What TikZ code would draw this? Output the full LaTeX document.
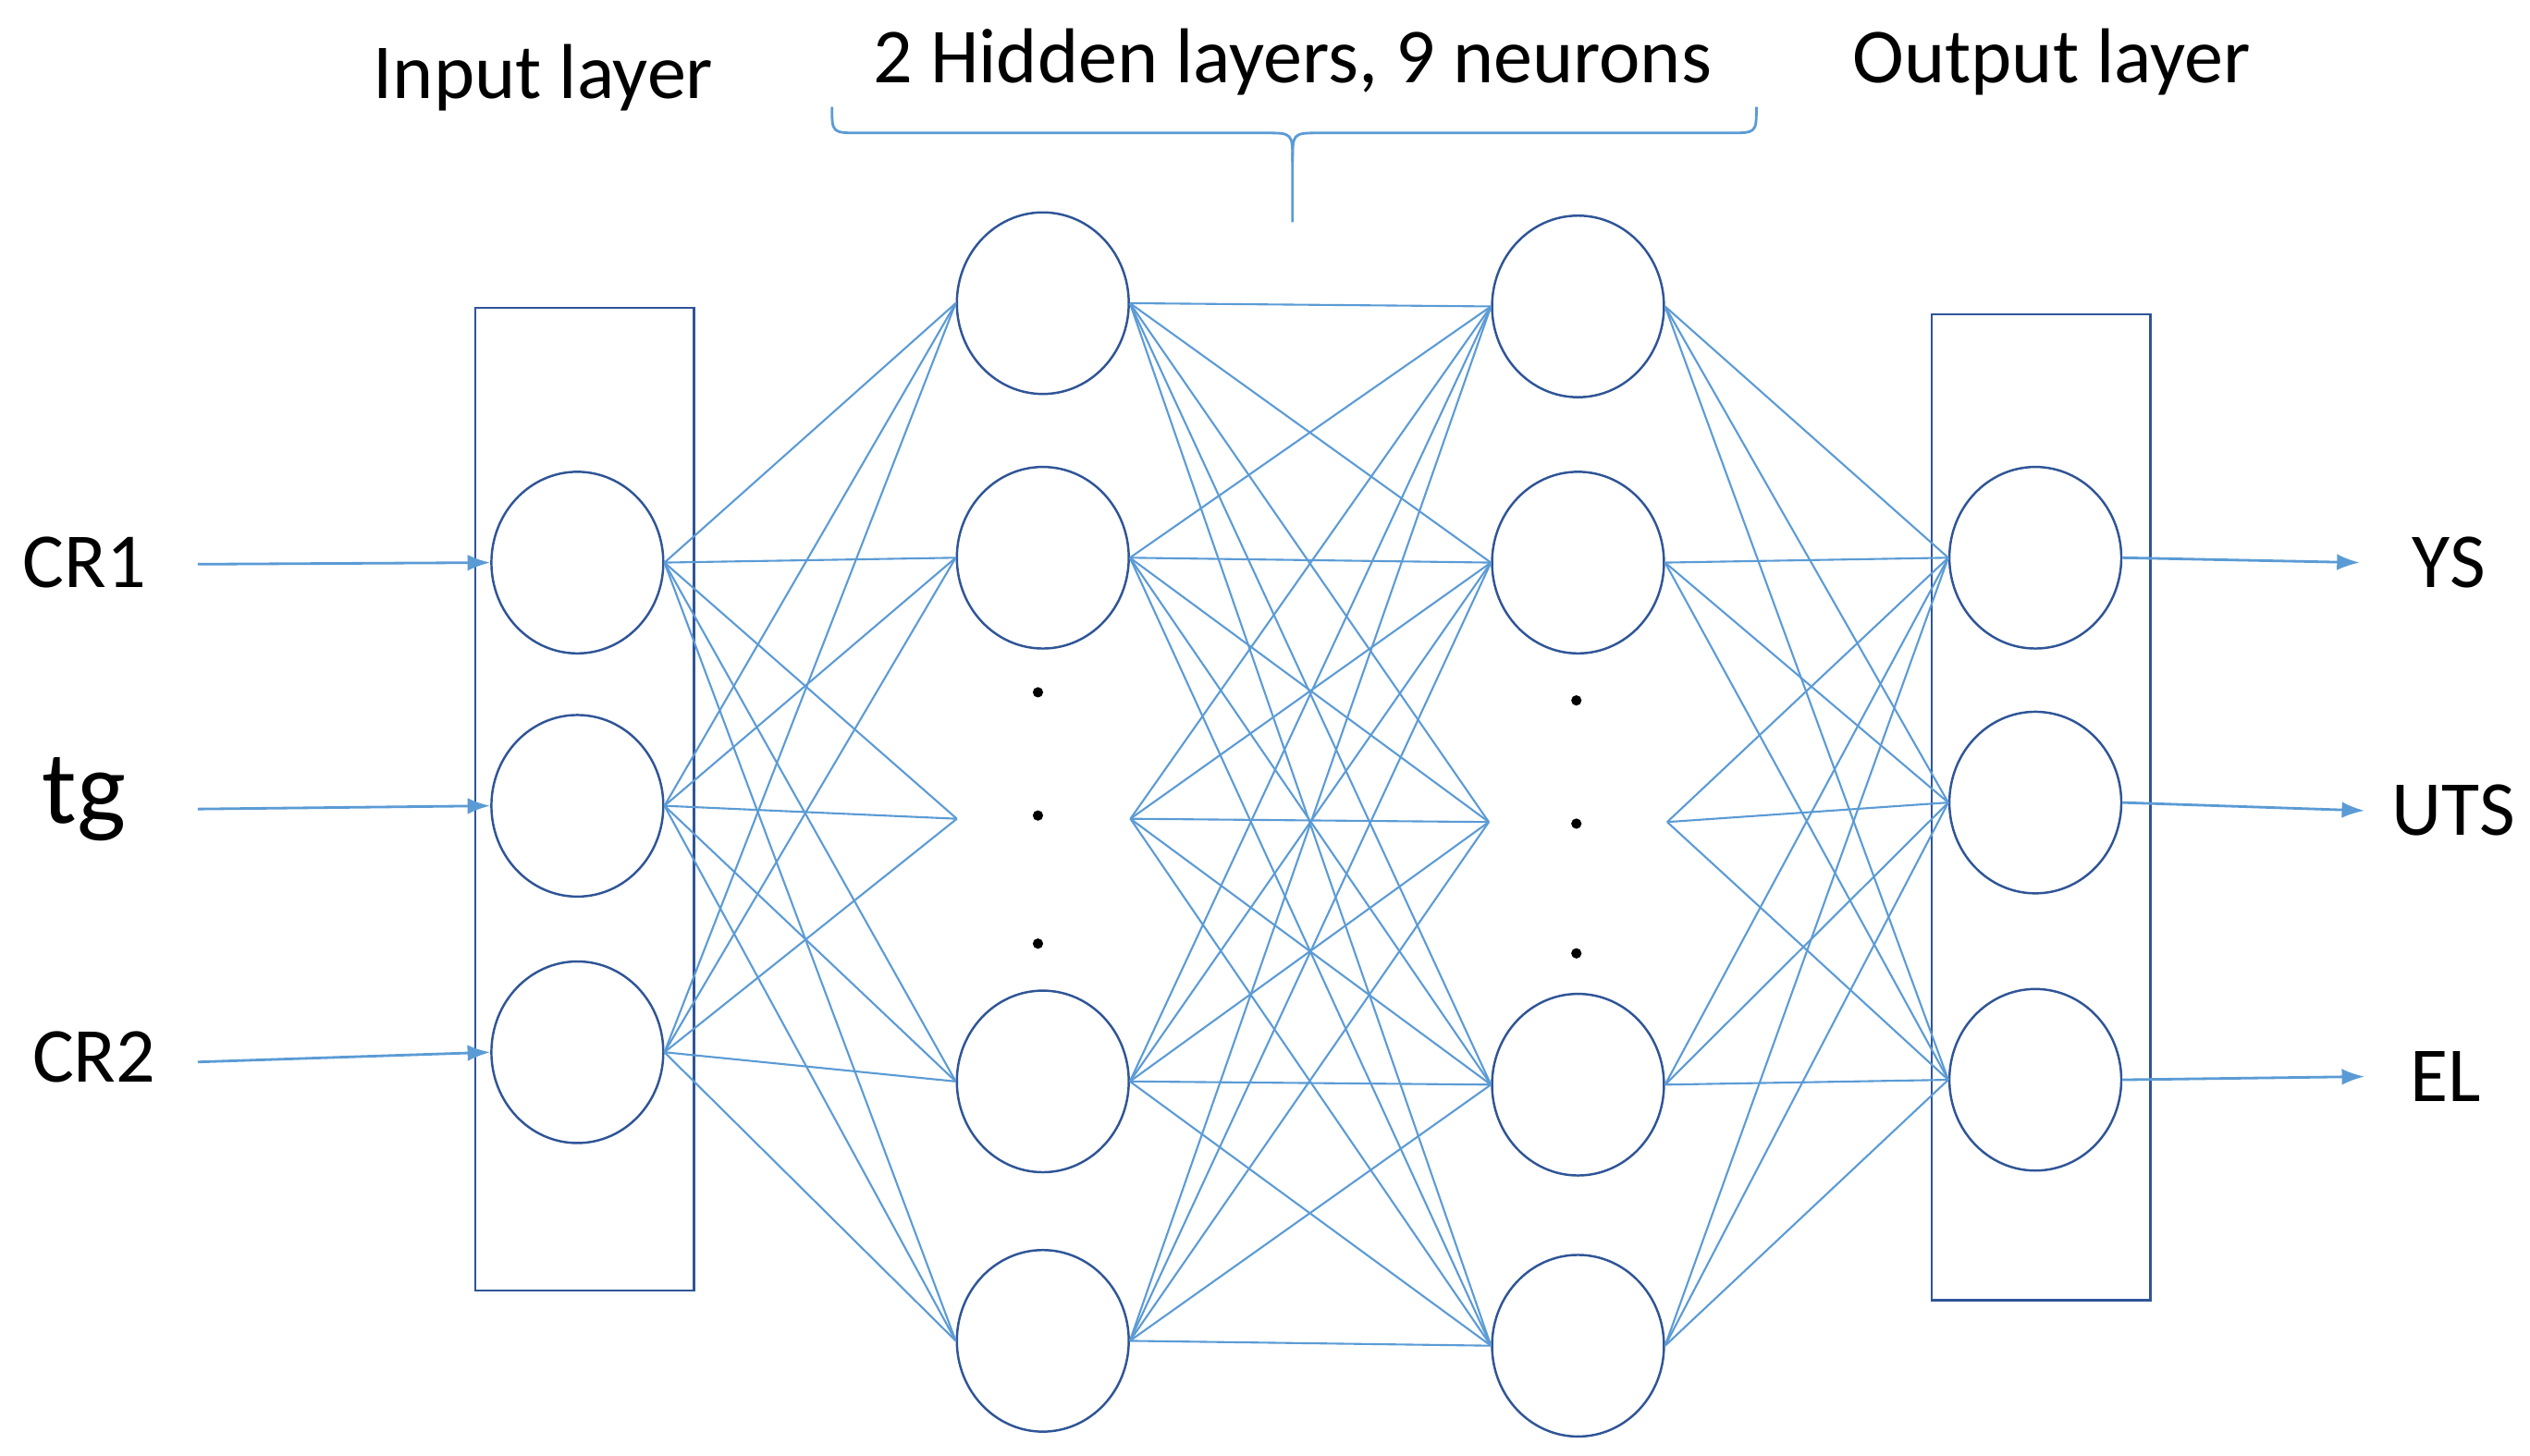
\documentclass[tikz,border=0pt]{standalone}
\usepackage{fontspec}
\setmainfont{Carlito}
\usetikzlibrary{shapes.geometric,decorations.pathreplacing,arrows.meta}
\definecolor{lineb}{RGB}{91,155,213}
\definecolor{darkb}{RGB}{47,85,151}
\begin{document}
\begin{tikzpicture}[x=0.5pt,y=-0.5pt,
  neuron/.style={ellipse,draw=darkb,line width=0.7pt,minimum width=53pt,minimum height=56pt,inner sep=0pt},
  conn/.style={lineb,line width=0.6pt},
  arr/.style={lineb,line width=0.8pt,-{Latex[length=7pt,width=5pt]}},
  lab/.style={font=\fontsize{24}{28}\selectfont},
  layerbox/.style={draw=darkb,line width=0.7pt}]
\useasboundingbox (0,0) rectangle (1560,898);
% boxes
\draw[layerbox] (293,190) rectangle (428,796);
\draw[layerbox] (1191,194) rectangle (1326,802);
% neurons
\node[neuron] (i1) at (356,347) {};
\node[neuron] (i2) at (356,497) {};
\node[neuron] (i3) at (356,649) {};
\node[neuron] (a1) at (643,187) {};
\node[neuron] (a2) at (643,344) {};
\node[neuron] (a3) at (643,667) {};
\node[neuron] (a4) at (643,827) {};
\node[neuron] (b1) at (973,189) {};
\node[neuron] (b2) at (973,347) {};
\node[neuron] (b3) at (973,669) {};
\node[neuron] (b4) at (973,830) {};
\node[neuron] (o1) at (1255,344) {};
\node[neuron] (o2) at (1255,495) {};
\node[neuron] (o3) at (1255,666) {};
% dots
\foreach \y in {427,503,582} \fill (640,\y) circle (1.6pt);
\foreach \y in {432,508,588} \fill (972,\y) circle (1.6pt);
\coordinate (aml) at (590,505);
\coordinate (amr) at (697,505);
\coordinate (bml) at (918,507);
\coordinate (bmr) at (1028,507);
% connections input -> hidden1
\foreach \s in {i1,i2,i3}{
  \foreach \t in {a1,a2,a3,a4} \draw[conn] (\s.east) -- (\t.west);
  \draw[conn] (\s.east) -- (aml);
}
% hidden1 -> hidden2
\foreach \s in {a1,a2,a3,a4}{
  \foreach \t in {b1,b2,b3,b4} \draw[conn] (\s.east) -- (\t.west);
  \draw[conn] (\s.east) -- (bml);
}
\foreach \t in {b1,b2,b3,b4} \draw[conn] (amr) -- (\t.west);
\draw[conn] (amr) -- (bml);
% hidden2 -> output
\foreach \t in {o1,o2,o3}{
  \foreach \s in {b1,b2,b3,b4} \draw[conn] (\s.east) -- (\t.west);
  \draw[conn] (bmr) -- (\t.west);
}
% inputs
\coordinate (c1) at (122,348);
\coordinate (c2) at (122,499);
\coordinate (c3) at (122,655);
\draw[arr] (c1) -- (i1.west);
\draw[arr] (c2) -- (i2.west);
\draw[arr] (c3) -- (i3.west);
\node[lab] (t1) at (52,347) {CR1};
\node[font=\fontsize{32}{36}\selectfont] (t2) at (52,493) {tg};
\node[lab] (t3) at (58,652) {CR2};
% outputs
\coordinate (y1) at (1455,347);
\coordinate (y2) at (1458,500);
\coordinate (y3) at (1458,664);
\draw[arr] (o1.east) -- (y1);
\draw[arr] (o2.east) -- (y2);
\draw[arr] (o3.east) -- (y3);
\node[lab] (u1) at (1510,347) {YS};
\node[lab] (u2) at (1513,500) {UTS};
\node[lab] (u3) at (1508,664) {EL};
% titles
\node[lab] (h0) at (335,48) {Input layer};
\node[lab] (h1) at (797,38) {2 Hidden layers, 9 neurons};
\node[lab] (h2) at (1265,38) {Output layer};
\draw[lineb,line width=0.8pt] (513,66) .. controls (513,82) .. (530,82) -- (780,82) .. controls (797,82) .. (797,100) -- (797,137);
\draw[lineb,line width=0.8pt] (1083,66) .. controls (1083,82) .. (1066,82) -- (814,82) .. controls (797,82) .. (797,100);
\end{tikzpicture}
\end{document}
